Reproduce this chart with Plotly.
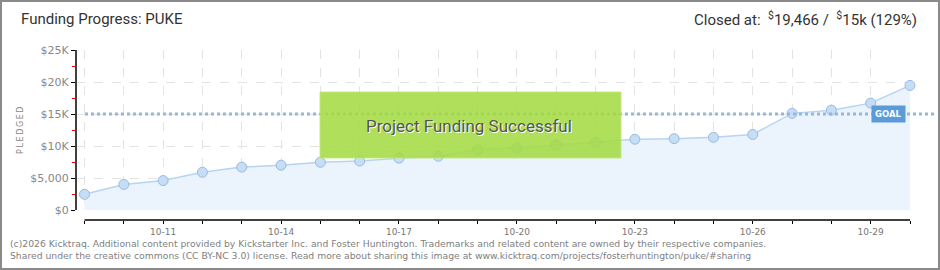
import plotly.graph_objects as go

# ---- data ----
dates = ["10-09", "10-10", "10-11", "10-12", "10-13", "10-14", "10-15", "10-16",
         "10-17", "10-18", "10-19", "10-20", "10-21", "10-22", "10-23", "10-24",
         "10-25", "10-26", "10-27", "10-28", "10-29", "10-30"]
pledged = [2450, 4000, 4600, 5900, 6700, 7000, 7450, 7650, 8100, 8400, 9400, 9700,
           10150, 10600, 11050, 11150, 11350, 11800, 15100, 15600, 16700, 19466]
goal = 15000
label_dates = ["10-11", "10-14", "10-17", "10-20", "10-23", "10-26", "10-29"]
ytick_vals = [0, 5000, 10000, 15000, 20000, 25000]
ytick_text = ["$0", "$5,000", "$10K", "$15K", "$20K", "$25K"]
yminor_vals = [2500, 7500, 12500, 17500, 22500]

W, H = 940, 270
ML, MR, MT, MB = 76, 30, 50, 50
PW, PH = W - ML - MR, H - MT - MB


def px(x):
    return (x - ML) / PW


def py(y):
    return (H - MB - y) / PH


fig = go.Figure()
fig.add_trace(go.Scatter(
    x=dates, y=pledged, mode="lines+markers", fill="tozeroy",
    fillcolor="#ebf3fc", line=dict(color="#b7d4f2", width=1.5),
    marker=dict(size=10, color="#c6ddf6", line=dict(color="#98bbe0", width=1)),
    cliponaxis=False, hoverinfo="skip", showlegend=False,
))

shapes = []
# x axis line (below plot)
shapes.append(dict(type="line", xref="x", yref="paper", x0=dates[0], x1=dates[-1],
                   y0=0, y1=0, line=dict(color="#000", width=1.5)))
# y axis line
shapes.append(dict(type="line", xref="paper", yref="y", x0=0, x1=0, y0=0, y1=25000,
                   line=dict(color="#000", width=1.5)))
# goal line
shapes.append(dict(type="line", xref="paper", yref="y", x0=px(85), x1=px(937), y0=goal, y1=goal,
                   line=dict(color="#95b6de", width=3, dash="dot"), layer="above"))
# success box
shapes.append(dict(type="rect", xref="paper", yref="paper", x0=px(320), x1=px(621),
                   y0=py(158), y1=py(92), fillcolor="rgba(164,219,68,0.88)",
                   line=dict(color="rgba(190,235,120,0.9)", width=1), layer="above"))
# outer border
shapes.append(dict(type="rect", xref="paper", yref="paper", x0=px(1), x1=px(939),
                   y0=py(269), y1=py(1), line=dict(color="#8a8a8a", width=2),
                   fillcolor="rgba(0,0,0,0)"))

annotations = []
annotations.append(dict(text="Funding Progress: PUKE", xref="paper", yref="paper",
                        x=px(19), y=py(19), xanchor="left", yanchor="middle", showarrow=False,
                        font=dict(family="Roboto", size=15, color="#333")))
annotations.append(dict(text="Closed at:  <sup>$</sup>19,466 /  <sup>$</sup>15k (129%)",
                        xref="paper", yref="paper",
                        x=px(919), y=py(19), xanchor="right", yanchor="middle", showarrow=False,
                        font=dict(family="Roboto", size=15, color="#333")))
annotations.append(dict(text="P\u2009L\u2009E\u2009D\u2009G\u2009E\u2009D", xref="paper", yref="paper",
                        x=px(20), y=py(130), xanchor="center", yanchor="middle",
                        textangle=-90, showarrow=False,
                        font=dict(family="DejaVu Sans", size=8, color="#888")))
annotations.append(dict(text="Project Funding Successful", xref="paper", yref="paper",
                        x=px(469), y=py(126), xanchor="center", yanchor="middle", showarrow=False,
                        font=dict(family="Roboto", size=17, color="#555",
                                  shadow="1px 1px 0px #ffffff")))
annotations.append(dict(text="<b>GOAL</b>", xref="paper", yref="y", x=px(888), y=goal,
                        xanchor="center", yanchor="middle",
                        showarrow=False, bgcolor="#5b9bd8", borderpad=3,
                        font=dict(family="DejaVu Sans", size=8.5, color="#fff")))
annotations.append(dict(
    text="(c)2026 Kicktraq. Additional content provided by Kickstarter Inc. and Foster Huntington. "
         "Trademarks and related content are owned by their respective companies.<br>"
         "Shared under the creative commons (CC BY-NC 3.0) license. Read more about sharing this "
         "image at www.kicktraq.com/projects/fosterhuntington/puke/#sharing",
    xref="paper", yref="paper", x=px(8), y=py(249.5), xanchor="left", yanchor="middle",
    align="left", showarrow=False,
    font=dict(family="DejaVu Sans", size=9.25, color="#808080")))

fig.update_layout(
    width=W, height=H, margin=dict(l=ML, r=MR, t=MT, b=MB),
    paper_bgcolor="#ffffff", plot_bgcolor="#ffffff",
    shapes=shapes, annotations=annotations,
    xaxis=dict(type="category", categoryorder="array", categoryarray=dates,
               range=[-8.5 / 39.29, len(dates) - 1], anchor="free", position=0,
               tickmode="array", tickvals=dates,
               ticktext=[d if d in label_dates else "" for d in dates],
               ticks="outside", ticklen=3, tickcolor="#000", tickwidth=1.2,
               ticklabelstandoff=0,
               showgrid=True, gridcolor="#e3e3e3", griddash="dash", gridwidth=1,
               showline=False, zeroline=False,
               tickfont=dict(family="DejaVu Sans", size=9, color="#777")),
    yaxis=dict(range=[0, 25000], domain=[10 / PH, 1], tickmode="array",
               tickvals=ytick_vals, ticktext=ytick_text,
               ticks="outside", ticklen=4, tickcolor="#000", tickwidth=1.2,
               showgrid=True, gridcolor="#e3e3e3", griddash="dash", gridwidth=1,
               showline=False, zeroline=False,
               minor=dict(tickvals=yminor_vals, ticks="outside", ticklen=3,
                          tickcolor="#e00", showgrid=False),
               tickfont=dict(family="DejaVu Sans", size=11, color="#888")),
)

fig.write_html("out.html")
